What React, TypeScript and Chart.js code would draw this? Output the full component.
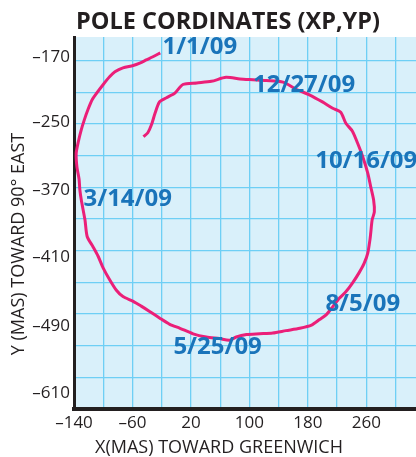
import React, { useEffect, useRef } from 'react';
import { Chart, registerables } from 'chart.js';

Chart.register(...registerables);

// ---- data ----
const xTickLabels = [-140, -60, 20, 100, 180, 260];
const xGridValues = [-140, -100, -60, -20, 20, 60, 100, 140, 180, 220, 260, 300];
const yGridValues = [-610, -570, -530, -490, -450, -410, -370, -330, -290, -250, -210, -170];
const yTickLabels = ['\u2013170', '\u2013250', '\u2013370', '\u2013410', '\u2013490', '\u2013610'];
const yTickAt = [-166, -247, -333, -418, -505, -590];

const poleX = [
  -22, -32, -41, -50, -59, -73, -84, -91, -100, -109, -115, -121, -126, -130, -134, -137, -136, -133, -132, -130,
  -125, -122, -114, -107, -100, -91, -82, -73, -59, -48, -36, -23, -9, 5, 23, 41, 59, 73, 82, 96,
  114, 132, 150, 169, 185, 196, 205, 214, 223, 232, 241, 250, 257, 262, 265, 266, 268, 271, 270, 266,
  262, 255, 248, 241, 232, 225, 214, 200, 182, 164, 146, 123, 105, 87, 68, 48, 28, 9, -2, -14,
  -23, -29, -34, -39, -45,
];
const poleY = [
  -160, -165, -169, -173, -176, -179, -184, -190, -200, -211, -219, -232, -245, -257, -272, -287, -304, -320, -333, -346,
  -371, -392, -405, -417, -432, -447, -460, -468, -474, -480, -487, -495, -503, -508, -515, -519, -521, -523, -519, -516,
  -515, -514, -511, -508, -504, -497, -491, -481, -470, -462, -451, -438, -426, -413, -396, -388, -371, -361, -346, -329,
  -312, -291, -274, -259, -249, -235, -230, -222, -213, -206, -197, -195, -194, -193, -191, -196, -198, -200, -211, -217,
  -222, -236, -251, -261, -266,
];

const dateLabels = ['1/1/09', '12/27/09', '10/16/09', '3/14/09', '8/5/09', '5/25/09'];
const dateX = [-19, 105, 190, -127, 204, -4];
const dateY = [-162, -210, -306, -353, -486, -540];

const titleText = 'POLE CORDINATES (XP,YP)';
const xTitleText = 'X(MAS) TOWARD GREENWICH';
const yTitleText = 'Y (MAS) TOWARD 90\u00B0 EAST';

// ---- styles ----
const DARK = '#231f20';
const GRID = '#6ecff5';
const BG = '#d9f0fa';
const LINE = '#eb1f78';
const BLUE = '#1a74ba';
const FONT = '"Open Sans", "Noto Sans", sans-serif';

const fmt = (v: number) => (v < 0 ? '\u2013' + Math.abs(v) : String(v));

const decorPlugin = {
  id: 'decor',
  beforeDraw(chart: any) {
    const { ctx, chartArea } = chart;
    ctx.save();
    ctx.fillStyle = BG;
    ctx.fillRect(chartArea.left, chartArea.top, chartArea.right - chartArea.left, chartArea.bottom - chartArea.top);
    ctx.restore();
  },
  afterDatasetsDraw(chart: any) {
    const { ctx } = chart;
    const xs = chart.scales.x;
    const ys = chart.scales.y;
    ctx.save();
    ctx.font = 'bold 24px ' + FONT;
    ctx.fillStyle = BLUE;
    ctx.textAlign = 'left';
    ctx.textBaseline = 'alphabetic';
    dateLabels.forEach((t, i) => {
      ctx.fillText(t, xs.getPixelForValue(dateX[i]), ys.getPixelForValue(dateY[i]));
    });
    ctx.restore();
  },
  afterDraw(chart: any) {
    const { ctx } = chart;
    ctx.save();
    ctx.fillStyle = DARK;
    ctx.textBaseline = 'alphabetic';
    ctx.textAlign = 'center';
    ctx.font = 'bold 23.5px ' + FONT;
    ctx.fillText(titleText, 228, 28.5);
    ctx.font = '18px ' + FONT;
    ctx.fillText(xTitleText, 219, 453);
    ctx.translate(24, 244);
    ctx.rotate(-Math.PI / 2);
    ctx.fillText(yTitleText, 0, 0);
    ctx.restore();
  },
};

export default function App() {
  const ref = useRef<HTMLCanvasElement | null>(null);

  useEffect(() => {
    if (!ref.current) return;
    const data = poleX.map((x, i) => ({ x, y: poleY[i] }));
    const chart = new Chart(ref.current, {
      type: 'scatter',
      data: {
        datasets: [
          {
            data,
            showLine: true,
            borderColor: LINE,
            borderWidth: 3,
            pointRadius: 0,
            tension: 0.25,
            fill: false,
          },
        ],
      },
      options: {
        responsive: false,
        animation: false,
        devicePixelRatio: 1,
        layout: { padding: { top: 37, left: 0, right: 0, bottom: 0 } },
        plugins: { legend: { display: false }, tooltip: { enabled: false }, title: { display: false } },
        scales: {
          x: {
            type: 'linear',
            position: 'bottom',
            min: -140,
            max: 328,
            afterFit: (s: any) => {
              s.height = 48;
            },
            afterBuildTicks: (s: any) => {
              s.ticks = xGridValues.map((v) => ({ value: v }));
            },
            ticks: {
              autoSkip: false,
              maxRotation: 0,
              padding: 4,
              color: DARK,
              font: { family: FONT, size: 17 },
              callback: (v: any) => (xTickLabels.includes(v) ? fmt(v) : ''),
            },
            grid: { color: GRID, lineWidth: 1.3, drawTicks: false },
            border: { display: true, color: DARK, width: 4 },
          },
          y: {
            type: 'linear',
            position: 'left',
            min: -610,
            max: -140,
            afterFit: (s: any) => {
              s.width = 74;
            },
            afterBuildTicks: (s: any) => {
              s.ticks = yTickAt.map((v) => ({ value: v }));
            },
            ticks: {
              autoSkip: false,
              padding: 4,
              color: DARK,
              font: { family: FONT, size: 17 },
              callback: (v: any) => {
                const i = yTickAt.indexOf(v);
                return i >= 0 ? yTickLabels[i] : '';
              },
            },
            grid: { display: false, drawTicks: false },
            border: { display: true, color: DARK, width: 3 },
          },
          yg: {
            type: 'linear',
            position: 'right',
            min: -610,
            max: -140,
            afterFit: (s: any) => {
              s.width = 0;
            },
            afterBuildTicks: (s: any) => {
              s.ticks = yGridValues.map((v) => ({ value: v }));
            },
            ticks: { display: false },
            grid: { color: GRID, lineWidth: 1.3, drawTicks: false },
            border: { display: false },
          },
        },
      },
      plugins: [decorPlugin],
    });
    return () => chart.destroy();
  }, []);

  return (
    <div style={{ position: 'absolute', left: 0, top: 0, width: 416, height: 457, background: '#fff' }}>
      <canvas ref={ref} width={416} height={457} style={{ display: 'block', width: 416, height: 457 }} />
    </div>
  );
}
